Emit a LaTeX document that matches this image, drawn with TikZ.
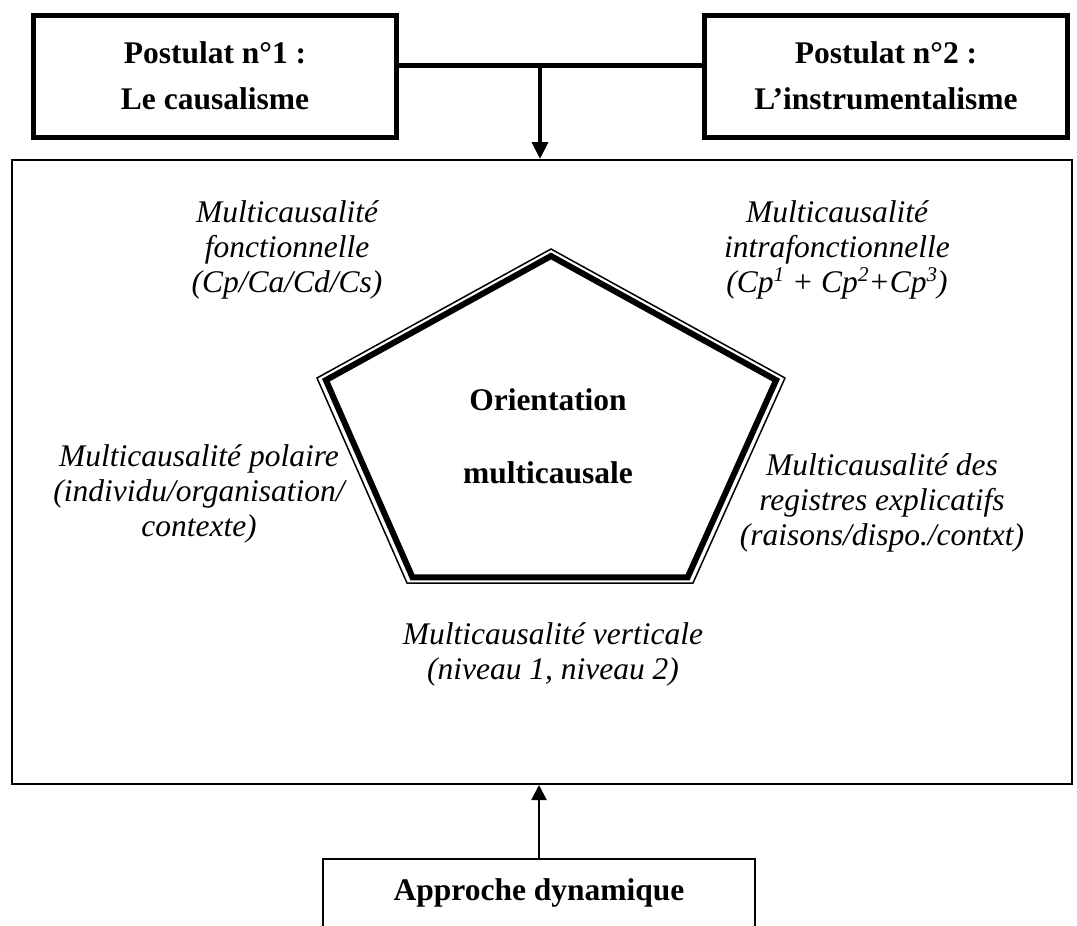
\documentclass[tikz,border=0pt]{standalone}
\usepackage{fontspec}
\setmainfont{Liberation Serif}
\usepackage{tikz}
\usetikzlibrary{arrows.meta,calc}

\newcommand\expo[1]{\raisebox{0.8ex}{\fontsize{21}{21}\selectfont #1}}

\tikzset{
    postbox/.style={draw, line width=5pt, minimum width=363pt, minimum height=122pt,
        align=center, font=\fontsize{31.5}{46}\selectfont\bfseries},
    multi/.style={align=center, font=\fontsize{31.5}{35}\selectfont\itshape},
}

\begin{document}
\begin{tikzpicture}[x=1pt,y=-1pt]
    \useasboundingbox (0,0) rectangle (1077,926);
    \begin{scope}[every node/.style=postbox]
        \node(p1) at (215,76) {Postulat n°1 :\\Le causalisme};
        \node(p2) at (886,76) {Postulat n°2 :\\L’instrumentalisme};
    \end{scope}
    \node(main)[draw, line width=2pt, minimum width=1060pt, minimum height=624pt] at (542,472) {};
    %Pentagon
    \coordinate (c) at (551,434);
    \coordinate (A) at (551,249);
    \coordinate (B) at (785,378);
    \coordinate (C) at (693,583);
    \coordinate (D) at (407,583);
    \coordinate (E) at (317,378);
    \draw[line width=1.5pt, line join=miter] (A) -- (B) -- (C) -- (D) -- (E) -- cycle;
    \draw[line width=6pt, line join=miter] ($(c)!0.962!(A)$) -- ($(c)!0.962!(B)$)
        -- ($(c)!0.962!(C)$) -- ($(c)!0.962!(D)$) -- ($(c)!0.962!(E)$) -- cycle;
    \node(orient)[align=center, font=\fontsize{31.5}{73}\selectfont\bfseries] at (548,436) {Orientation\\multicausale};
    \begin{scope}[every node/.style=multi]
        \node(fonc) at (287,250) {Multicausalité\\fonctionnelle\\(Cp/Ca/Cd/Cs)};
        \node(intra) at (837,250) {Multicausalité\\intrafonctionnelle\\(Cp\expo{1} + Cp\expo{2}+Cp\expo{3})};
        \node(polar) at (199,494) {Multicausalité polaire\\(individu/organisation/\\contexte)};
        \node(regis) at (882,503) {Multicausalité des\\registres explicatifs\\(raisons/dispo./contxt)};
        \node(vert) at (553,654) {Multicausalité verticale\\(niveau 1, niveau 2)};
    \end{scope}
    \node(dyn)[minimum width=432pt, minimum height=67pt, font=\fontsize{31.5}{37}\selectfont\bfseries] at (539,892.5) {Approche dynamique};
    %Lines
    \coordinate (j) at (540,65);
    \draw[line width=5pt] (p1.east |- j) -- (p2.west |- j);
    \draw[line width=4pt, -{Triangle[length=17pt,width=16pt]}] (j) -- (main.north -| j);
    \draw[line width=2.5pt] (dyn.south west) -- (dyn.north west) -- (dyn.north east) -- (dyn.south east);
    \draw[line width=2pt, -{Triangle[length=15pt,width=15pt]}] (dyn.north) -- (main.south -| dyn.north);
\end{tikzpicture}
\end{document}
